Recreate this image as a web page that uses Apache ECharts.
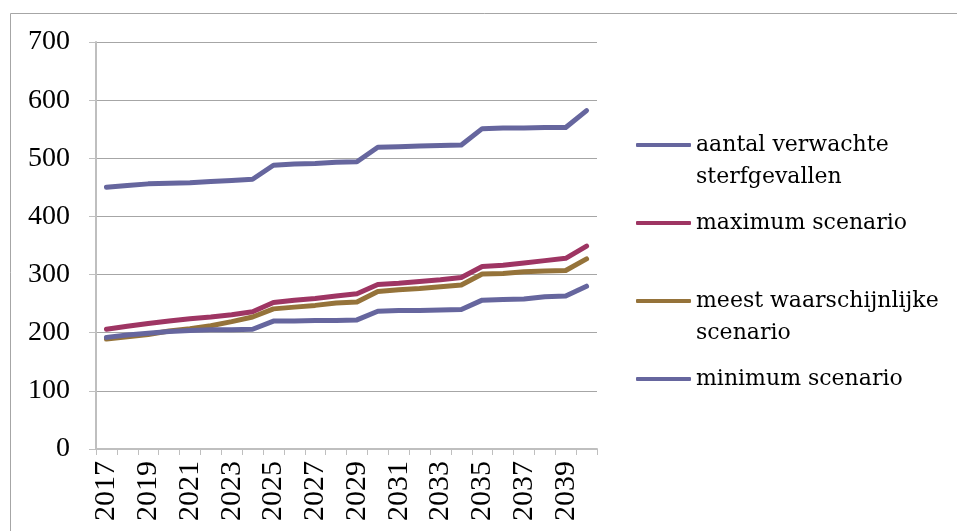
<!DOCTYPE html>
<html>
<head>
<meta charset="utf-8">
<script src="https://cdn.jsdelivr.net/npm/echarts@6/dist/echarts.min.js"></script>
<style>
  html, body { margin: 0; padding: 0; background: #fff; }
  #chart { width: 957px; height: 531px; }
</style>
</head>
<body>
<div id="chart"></div>
<script>
// jaren en reeksen
const years = ['2017', '2018', '2019', '2020', '2021', '2022', '2023', '2024', '2025', '2026', '2027', '2028',
  '2029', '2030', '2031', '2032', '2033', '2034', '2035', '2036', '2037', '2038', '2039', '2040'];
const verwacht = [450, 453, 456, 457, 458, 460, 462, 464, 488, 490, 491, 493, 494, 519, 520, 521, 522, 523, 551, 552, 552, 553, 553, 582];
const maximum = [206, 211, 216, 220, 224, 227, 231, 236, 252, 256, 259, 263, 267, 283, 285, 288, 291, 295, 314, 316, 320, 324, 328, 349];
const meest = [189, 193, 197, 203, 207, 212, 219, 227, 241, 244, 247, 251, 253, 271, 274, 276, 279, 282, 301, 302, 305, 306, 307, 327];
const minimum = [192, 196, 199, 202, 204, 205, 205, 206, 220, 220, 221, 221, 222, 237, 238, 238, 239, 240, 256, 257, 258, 262, 263, 280];
const yTicks = [0, 100, 200, 300, 400, 500, 600, 700];

const names = ['aantal verwachte sterfgevallen', 'maximum scenario', 'meest waarschijnlijke scenario', 'minimum scenario'];
// lege eerste regel zodat het lijntje bij de eerste tekstregel staat
const labels = ['\naantal verwachte\nsterfgevallen', 'maximum scenario', '\nmeest waarschijnlijke\nscenario', 'minimum scenario'];
const colors = ['#66669e', '#9e3563', '#95733a', '#66669e'];

const chart = echarts.init(document.getElementById('chart'));

function line(i, data) {
  return {
    name: names[i],
    type: 'line',
    data: data,
    symbol: 'none',
    color: colors[i],
    lineStyle: { width: 5, color: colors[i], cap: 'round', join: 'round' },
    animation: false
  };
}

chart.setOption({
  animation: false,
  graphic: [{
    type: 'rect',
    shape: { x: 10.5, y: 13.5, width: 1000, height: 600 },
    style: { fill: 'none', stroke: '#a6a6a6', lineWidth: 1 },
    silent: true
  }],
  grid: { left: 96, right: 360, top: 42, bottom: 82 },
  legend: {
    orient: 'vertical',
    left: 631,
    top: 92,
    itemGap: 14,
    itemWidth: 55,
    itemHeight: 4,
    icon: 'roundRect',
    formatter: function (name) { return labels[names.indexOf(name)]; },
    textStyle: { fontFamily: 'DejaVu Serif', fontSize: 22, lineHeight: 32, color: '#000' },
    data: names
  },
  xAxis: {
    type: 'category',
    data: years,
    boundaryGap: true,
    axisLine: { lineStyle: { color: '#bfbfbf', width: 2 } },
    axisTick: { show: true, interval: 0, length: 6, lineStyle: { color: '#bfbfbf', width: 1 } },
    axisLabel: {
      interval: 1,
      rotate: 90,
      margin: 12,
      color: '#000',
      fontFamily: 'Liberation Serif',
      fontSize: 30
    },
    splitLine: { show: false }
  },
  yAxis: {
    type: 'value',
    min: yTicks[0],
    max: yTicks[yTicks.length - 1],
    interval: 100,
    axisLine: { show: true, lineStyle: { color: '#bfbfbf', width: 2 } },
    axisTick: { show: true, length: 7, lineStyle: { color: '#bfbfbf' } },
    axisLabel: { margin: 26, color: '#000', fontFamily: 'Liberation Serif', fontSize: 28 },
    splitLine: { lineStyle: { color: '#a6a6a6', width: 1 } }
  },
  series: [
    line(0, verwacht),
    line(1, maximum),
    line(2, meest),
    line(3, minimum)
  ]
});

window.onresize = function () {
  chart.resize();
};
</script>
</body>
</html>
